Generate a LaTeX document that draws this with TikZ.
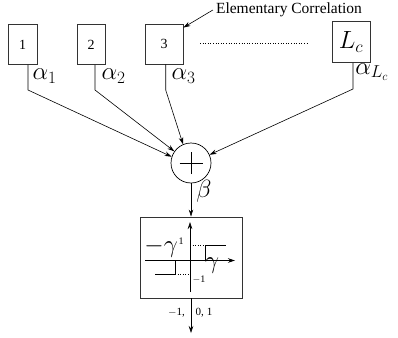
\documentclass[tikz,border=0pt]{standalone}
\usepackage{fontspec}
\setmainfont{Liberation Serif}
\usetikzlibrary{arrows.meta}
\begin{document}
\begin{tikzpicture}[x=1pt,y=-1pt,
  box/.style={draw=black!80, line width=0.9pt, inner sep=0pt},
  conn/.style={line width=0.6pt},
  arr/.style={conn,-{Stealth[length=7pt,width=4.5pt]}},
  big/.style={font=\fontsize{26}{30}\selectfont, inner sep=0pt},
  num/.style={font=\fontsize{14}{16}\selectfont, inner sep=0pt},
  small/.style={font=\fontsize{10}{11}\selectfont, inner sep=0pt},
  lbl/.style={font=\fontsize{11}{12}\selectfont, inner sep=0pt},
  dots/.style={line width=0.6pt, dash pattern=on 0.8pt off 1.8pt}]
\useasboundingbox (0,0) rectangle (398,337);

% top boxes
\node[box, num, minimum width=29pt, minimum height=40pt] (b1) at (22.5,44.5) {1};
\node[box, num, minimum width=28pt, minimum height=40pt] (b2) at (91,44.5) {2};
\node[box, num, minimum width=38pt, minimum height=40pt] (b3) at (164,44) {3};
\node[box, minimum width=38pt, minimum height=40.6pt, font=\fontsize{25}{28}\selectfont] (bL) at (351,42) {$L_c$};

\draw[dots] (200,43) -- (308,43);

% elementary correlation
\node[font=\fontsize{15.5}{17}\selectfont, inner sep=0pt] (ec) at (289,10) {Elementary Correlation};
\draw[arr] ([xshift=-3pt]ec.west) -- ([yshift=-4pt]b3.north east);

% summation
\node[circle, draw, line width=0.7pt, minimum size=40pt, inner sep=0pt] (sum) at (191,163) {};
\draw[line width=0.7pt] ([xshift=-11.5pt]sum.center) -- ([xshift=11.5pt]sum.center);
\draw[line width=0.7pt] ([yshift=-11pt]sum.center) -- ([yshift=11pt]sum.center);

% bends
\coordinate (k1) at (28,90);
\coordinate (k2) at (95,90);
\coordinate (k3) at (165.7,90);
\coordinate (kL) at (353,89);

\draw[arr] (b1.south -| k1) -- (k1) -- (sum.162);
\draw[arr] (b2.south -| k2) -- (k2) -- (sum.145);
\draw[arr] (b3.south -| k3) -- (k3) -- (sum.113);
\draw[arr] (bL.south -| kL) -- (kL) -- (sum.24);

% alpha labels
\node[big] (a1) at (44.5,76) {$\alpha_1$};
\node[big] (a2) at (113.5,76) {$\alpha_2$};
\node[big] (a3) at (183.5,76) {$\alpha_3$};
\node[big] (aL) at (372,72) {$\alpha_{L_c}$};

% step box
\node[box, minimum width=102pt, minimum height=81pt] (sb) at (191,257.5) {};
\draw[arr] (sum.south) -- (sb.north);
\node[big] (beta) at (204,191) {$\beta$};

% axes
\coordinate (o) at (190,260.5);
\coordinate (ytop) at (190,222);
\coordinate (ybot) at (190,292);
\coordinate (xl) at (145,260.5);
\coordinate (xr) at (235,260.5);
\draw[arr] (ybot) -- (ytop);
\draw[arr] (xl) -- (xr);

% step function
\draw[conn] (205.7,260.5) -- (205.7,245) -- (226,245);
\draw[conn] (175,260.5) -- (175,274.3) -- (155,274.3);
\draw[dots] (190,245) -- (205.7,245);
\draw[dots] (175,274.3) -- (190,274.3);

\node[font=\fontsize{27}{30}\selectfont, inner sep=0pt, anchor=base east] (mg) at (178,252) {$-\gamma$};
\node[small] (one) at (181,241.5) {1};
\node[small] (mone) at (199,280) {$-$1};
\node[big] (g) at (212,266) {$\gamma$};

% output
\coordinate (out) at (191,333);
\draw[arr] (sb.south) -- (out);
\node[lbl] (lm) at (176.5,312.5) {$-$1,};
\node[lbl] (lp) at (204,312.5) {0,\hspace{3pt}1};
\end{tikzpicture}
\end{document}
